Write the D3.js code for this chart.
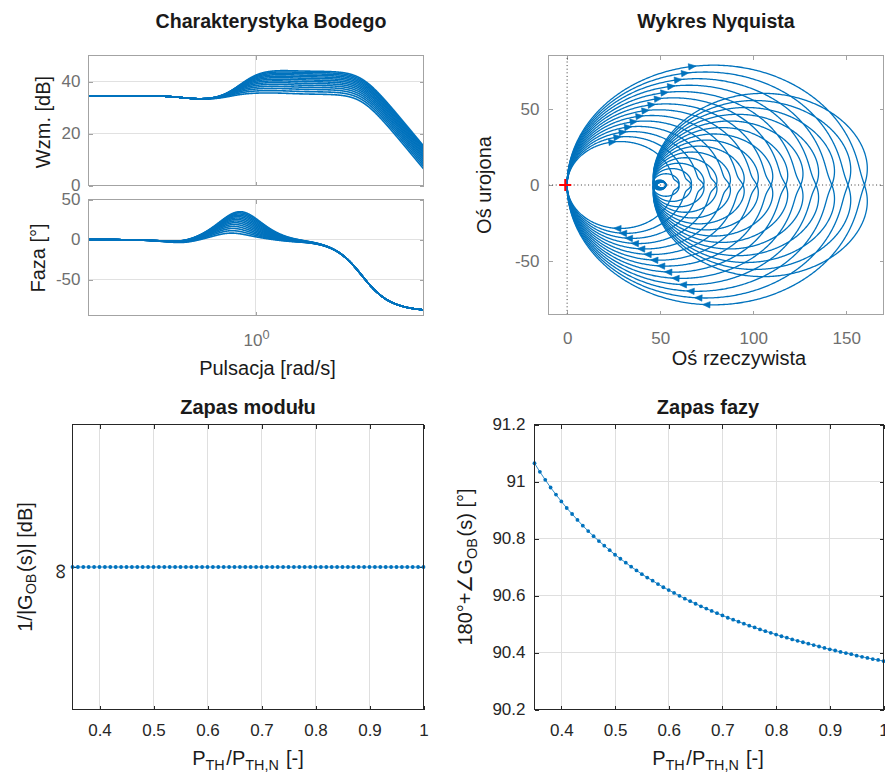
<!DOCTYPE html>
<html><head><meta charset="utf-8">
<script src="https://cdn.jsdelivr.net/npm/d3@7"></script>
<style>
body{margin:0;background:#fff}
svg text{font-family:"Liberation Sans",Arial,Helvetica,sans-serif}
</style>
</head><body>
<svg id="c" width="885" height="774"></svg>
<script>
// ---------------- data ----------------
// Bode / Nyquist family: one curve per P_TH/P_TH,N value
const curvePTH   = [0.35,0.40,0.45,0.50,0.55,0.60,0.65,0.70,0.75,0.80,0.85,0.90,0.95,1.00];
const plateauGain = [57.0,63.4,70.0,76.8,83.9,91.2,98.7,106.4,114.4,122.6,131.0,139.6,148.4,157.4];
const dcGain = 53;                          // low-frequency gain (34.5 dB)
const lagPole = 0.0187, lagZero = 0.0223;   // small common dip before the rise
const leadZero = 0.217;                     // start of the gain rise [rad/s]
const slowLagPole = 5.8, slowLagZero = 6.2; // slight sag of the plateau
const rollOffPole = 292;                    // -45 deg point [rad/s]
const bodeFreqRange = [1.26e-4, 7.94e3];
const magTicks = [0,20,40], phaseTicks = [-50,0,50], freqTicks = [1];
const nyqXTicks = [0,50,100,150], nyqYTicks = [-50,0,50];

// margins vs P_TH/P_TH,N
const pRatio = [0.35,0.36,0.37,0.38,0.39,0.40,0.41,0.42,0.43,0.44,0.45,0.46,0.47,0.48,0.49,0.50,0.51,0.52,0.53,0.54,0.55,0.56,0.57,0.58,0.59,0.60,0.61,0.62,0.63,0.64,0.65,0.66,0.67,0.68,0.69,0.70,0.71,0.72,0.73,0.74,0.75,0.76,0.77,0.78,0.79,0.80,0.81,0.82,0.83,0.84,0.85,0.86,0.87,0.88,0.89,0.90,0.91,0.92,0.93,0.94,0.95,0.96,0.97,0.98,0.99,1.00];
const phaseMargin = [91.064,91.034,91.006,90.979,90.954,90.930,90.907,90.886,90.865,90.845,
  90.826,90.808,90.791,90.775,90.759,90.743,90.729,90.715,90.701,90.688,
  90.675,90.663,90.652,90.640,90.629,90.619,90.609,90.599,90.589,90.580,
  90.571,90.562,90.554,90.546,90.538,90.530,90.522,90.515,90.508,90.501,
  90.494,90.488,90.481,90.475,90.469,90.463,90.457,90.452,90.446,90.441,
  90.436,90.431,90.426,90.421,90.416,90.411,90.407,90.402,90.398,90.394,
  90.389,90.385,90.381,90.377,90.374,90.370];
const gainMargin = [Infinity,Infinity,Infinity,Infinity,Infinity,Infinity,Infinity,Infinity,Infinity,Infinity,
  Infinity,Infinity,Infinity,Infinity,Infinity,Infinity,Infinity,Infinity,Infinity,Infinity,
  Infinity,Infinity,Infinity,Infinity,Infinity,Infinity,Infinity,Infinity,Infinity,Infinity,
  Infinity,Infinity,Infinity,Infinity,Infinity,Infinity,Infinity,Infinity,Infinity,Infinity,
  Infinity,Infinity,Infinity,Infinity,Infinity,Infinity,Infinity,Infinity,Infinity,Infinity,
  Infinity,Infinity,Infinity,Infinity,Infinity,Infinity,Infinity,Infinity,Infinity,Infinity,
  Infinity,Infinity,Infinity,Infinity,Infinity,Infinity];
const marginXTicks = [0.4,0.5,0.6,0.7,0.8,0.9,1];
const phaseMarginTicks = [90.2,90.4,90.6,90.8,91,91.2];

// ---------------- styling ----------------
const FONT = '"Liberation Sans", Arial, Helvetica, sans-serif';
const BLUE = "#0072BD";
const svg = d3.select("#c");

// frequency response of one member of the family
function response(K, w) {
  const lead0 = dcGain * lagPole / lagZero;
  const p = leadZero * (K * slowLagZero / slowLagPole) / lead0;
  const mag = dcGain * Math.hypot(1, w/lagZero) / Math.hypot(1, w/lagPole)
            * Math.hypot(1, w/leadZero) / Math.hypot(1, w/p)
            * Math.hypot(1, w/slowLagZero) / Math.hypot(1, w/slowLagPole)
            / Math.hypot(1, w/rollOffPole);
  const ph = Math.atan(w/lagZero) - Math.atan(w/lagPole)
           + Math.atan(w/leadZero) - Math.atan(w/p)
           + Math.atan(w/slowLagZero) - Math.atan(w/slowLagPole)
           - Math.atan(w/rollOffPole);
  return {mag, ph};
}

function frame(o) {
  const g = svg.append("g");
  const [x0, x1] = o.x.range(), [y0, y1] = o.y.range();
  if (o.xGrid) g.append("g").selectAll("line").data(o.xGrid).join("line")
    .attr("x1", d => o.x(d)).attr("x2", d => o.x(d)).attr("y1", y0).attr("y2", y1)
    .attr("stroke", o.gridColor).attr("shape-rendering", "crispEdges");
  if (o.yGrid) g.append("g").selectAll("line").data(o.yGrid).join("line")
    .attr("y1", d => o.y(d)).attr("y2", d => o.y(d)).attr("x1", x0).attr("x2", x1)
    .attr("stroke", o.gridColor).attr("shape-rendering", "crispEdges");
  const axes = [
    [d3.axisBottom(o.x).tickValues(o.xTicks).tickFormat(o.xFmt).tickPadding(o.xPad), `translate(0,${y0})`],
    [d3.axisTop(o.x).tickValues(o.xTicks).tickFormat(() => ""), `translate(0,${y1})`],
    [d3.axisLeft(o.y).tickValues(o.yTicks).tickFormat(o.yFmt).tickPadding(o.yPad), `translate(${x0},0)`],
    [d3.axisRight(o.y).tickValues(o.yTicks).tickFormat(() => ""), `translate(${x1},0)`]
  ];
  const ag = axes.map(([ax, tr]) => g.append("g").attr("transform", tr)
    .call(ax.tickSizeInner(-4).tickSizeOuter(0))
    .attr("font-family", FONT).attr("font-size", 17));
  ag.forEach(a => {
    a.select(".domain").remove();
    a.selectAll(".tick line").attr("stroke", o.boxColor).attr("shape-rendering", "crispEdges");
    a.selectAll(".tick text").attr("fill", o.textColor);
  });
  return {g, axes: ag, box: () => svg.append("rect").attr("x", x0).attr("y", y1)
    .attr("width", x1 - x0).attr("height", y0 - y1).attr("fill", "none")
    .attr("stroke", o.boxColor).attr("shape-rendering", "crispEdges")};
}

function clip(id, x, y) {
  const [x0, x1] = x.range(), [y0, y1] = y.range();
  svg.append("clipPath").attr("id", id).append("rect")
    .attr("x", x0).attr("y", y1).attr("width", x1 - x0).attr("height", y0 - y1);
  return `url(#${id})`;
}

function text(str, x, y, opt = {}) {
  const t = svg.append("text").attr("x", x).attr("y", y)
    .attr("text-anchor", opt.anchor || "middle").attr("font-size", opt.size || 20)
    .attr("font-weight", opt.bold ? "bold" : null).attr("fill", opt.color || "#1a1a1a");
  if (str) t.text(str);
  if (opt.rotate) t.attr("transform", `rotate(${opt.rotate},${x},${y})`);
  return t;
}
function subText(t, parts) {
  parts.forEach(([s, sub]) => {
    if (sub) { t.append("tspan").attr("font-size", "0.72em").attr("dy", "0.32em").text(s);
               t.append("tspan").attr("dy", "-0.23em").text("\u200A"); }
    else t.append("tspan").text(s);
  });
  return t;
}

const TOPGRID = "#e1e1e1", TOPBOX = "#a3a3a3", TOPTEXT = "#6f6f6f";
const BOTGRID = "#dfdfdf", BOTBOX = "#262626", BOTTEXT = "#262626";

// ---------------- Bode ----------------
const bx = d3.scaleLog().domain(bodeFreqRange).range([88.5, 423.5]);
const bmag = d3.scaleLinear().domain([0, 50]).range([185.5, 55.5]);
const bph = d3.scaleLinear().domain([-95, 50]).range([315.5, 199.5]);
const omegaBode = d3.range(0, 1201).map(i => Math.pow(10, Math.log10(bodeFreqRange[0]) +
  (Math.log10(bodeFreqRange[1]) - Math.log10(bodeFreqRange[0])) * i / 1200));

const fm = frame({x: bx, y: bmag, xTicks: freqTicks, yTicks: magTicks, xGrid: freqTicks, yGrid: [20, 40],
  xFmt: () => "", yFmt: d => String(d), xPad: 18, yPad: 8, gridColor: TOPGRID, boxColor: TOPBOX, textColor: TOPTEXT});
const fp = frame({x: bx, y: bph, xTicks: freqTicks, yTicks: phaseTicks, xGrid: freqTicks, yGrid: [-50, 0],
  xFmt: () => "", yFmt: d => String(d), xPad: 18, yPad: 8, gridColor: TOPGRID, boxColor: TOPBOX, textColor: TOPTEXT});
// 10^0 label
fp.axes[0].selectAll(".tick text").each(function () {
  const t = d3.select(this).text(null);
  t.append("tspan").text("10");
  t.append("tspan").attr("dy", "-0.55em").attr("font-size", "0.75em").text("0");
});

const clipMag = clip("cm", bx, bmag), clipPh = clip("cp", bx, bph);
const magLine = d3.line().x(d => bx(d.w)).y(d => bmag(20 * Math.log10(d.mag)));
const phLine = d3.line().x(d => bx(d.w)).y(d => bph(d.ph * 180 / Math.PI));
const bodeData = plateauGain.map(K => omegaBode.map(w => ({w, ...response(K, w)})));
svg.append("g").attr("clip-path", clipMag).selectAll("path").data(bodeData).join("path")
  .attr("d", magLine).attr("fill", "none").attr("stroke", BLUE).attr("stroke-width", 1.6);
svg.append("g").attr("clip-path", clipPh).selectAll("path").data(bodeData).join("path")
  .attr("d", phLine).attr("fill", "none").attr("stroke", BLUE).attr("stroke-width", 1.6);
fm.box(); fp.box();

text("Charakterystyka Bodego", 271, 28, {bold: true, size: 19.6});
text("Wzm. [dB]", 49.5, 122, {rotate: -90});
text("Faza [°]", 45, 258, {rotate: -90});
text("Pulsacja [rad/s]", 267.5, 375);

// ---------------- Nyquist ----------------
const nx = d3.scaleLinear().domain([-10, 170]).range([548.5, 883.5]);
const ny = d3.scaleLinear().domain([-85, 85]).range([314.5, 55.5]);
const fn = frame({x: nx, y: ny, xTicks: nyqXTicks, yTicks: nyqYTicks, xGrid: null, yGrid: null,
  xFmt: d => String(d), yFmt: d => String(d), xPad: 17, yPad: 9, gridColor: TOPGRID, boxColor: TOPBOX, textColor: TOPTEXT});
// dotted zero lines
svg.append("line").attr("x1", nx(0)).attr("x2", nx(0)).attr("y1", ny(-85)).attr("y2", ny(85))
  .attr("stroke", "#3a3a3a").attr("stroke-dasharray", "1,2.6").attr("stroke-width", 1);
svg.append("line").attr("x1", nx(-10)).attr("x2", nx(170)).attr("y1", ny(0)).attr("y2", ny(0))
  .attr("stroke", "#3a3a3a").attr("stroke-dasharray", "1,2.6").attr("stroke-width", 1);

const omegaNyq = d3.range(0, 2001).map(i => Math.pow(10, -4 + 10 * i / 2000));
const clipNy = clip("cn", nx, ny);
const nyLine = d3.line().x(d => nx(d[0])).y(d => ny(d[1]));
const nyPoint = (K, w) => { const r = response(K, w); return [r.mag * Math.cos(r.ph), r.mag * Math.sin(r.ph)]; };
const nyData = plateauGain.map(K => {
  const pos = omegaNyq.map(w => nyPoint(K, w));
  const neg = pos.map(p => [p[0], -p[1]]).reverse();
  return neg.concat(pos);
});
const gN = svg.append("g").attr("clip-path", clipNy);
gN.selectAll("path").data(nyData).join("path").attr("d", nyLine)
  .attr("fill", "none").attr("stroke", BLUE).attr("stroke-width", 1.3);
// arrows (direction of increasing frequency)
function arrow(p, q) {
  const px = nx(p[0]), py = ny(p[1]);
  const dx = nx(q[0]) - px, dy = ny(q[1]) - py, L = Math.hypot(dx, dy);
  const ux = dx / L, uy = dy / L;
  const tip = [px + ux * 4, py + uy * 4], base = [px - ux * 3.5, py - uy * 3.5];
  gN.append("path").attr("d", `M${tip[0]},${tip[1]}L${base[0] - uy * 3.2},${base[1] + ux * 3.2}L${base[0] + uy * 3.2},${base[1] - ux * 3.2}Z`)
    .attr("fill", BLUE).attr("stroke", BLUE).attr("stroke-width", 0.6);
}
plateauGain.forEach(K => {
  const wP = rollOffPole * 1.05, wN = rollOffPole * 1.16;
  arrow(nyPoint(K, wP), nyPoint(K, wP * 1.02));                       // positive frequencies
  const a = nyPoint(K, wN), b = nyPoint(K, wN / 1.02);
  arrow([a[0], -a[1]], [b[0], -b[1]]);                                // negative frequencies
});
// critical point
svg.append("path").attr("d", `M${nx(-1) - 6},${ny(0)}H${nx(-1) + 6}M${nx(-1)},${ny(0) - 6}V${ny(0) + 6}`)
  .attr("stroke", "#ff0000").attr("stroke-width", 2);
fn.box();
text("Wykres Nyquista", 716, 28, {bold: true, size: 19.6});
text("Oś urojona", 491, 185, {rotate: -90});
text("Oś rzeczywista", 739, 365);

// ---------------- Zapas modułu ----------------
const mx1 = d3.scaleLinear().domain([0.35, 1]).range([72.5, 423.5]);
const gmY = d3.scalePoint().domain([Infinity]).range([709.5, 424.5]).padding(0.5);
const f3 = frame({x: mx1, y: gmY, xTicks: marginXTicks, yTicks: [Infinity], xGrid: marginXTicks, yGrid: null,
  xFmt: d => String(d), yFmt: () => "\u221E", xPad: 14, yPad: 9, gridColor: BOTGRID, boxColor: BOTBOX, textColor: BOTTEXT});
f3.axes[2].selectAll(".tick text").each(function () {
  const t = d3.select(this);
  const xx = +t.attr("x");
  t.attr("text-anchor", "middle").attr("dy", "0.3em").attr("x", 0).attr("y", 0).attr("font-size", 22)
   .attr("transform", `translate(${xx - 3},4) rotate(-90)`);
});
const gmPts = pRatio.map((p, i) => [p, gainMargin[i]]);
svg.append("path").datum(gmPts).attr("d", d3.line().x(d => mx1(d[0])).y(d => gmY(d[1])))
  .attr("fill", "none").attr("stroke", BLUE).attr("stroke-width", 0.8);
svg.append("g").selectAll("circle").data(gmPts).join("circle")
  .attr("cx", d => mx1(d[0])).attr("cy", d => gmY(d[1])).attr("r", 1.9).attr("fill", BLUE);
f3.box();
text("Zapas modułu", 248, 414, {bold: true});
subText(text("", 248, 765), [["P"], ["TH", 1], ["/P"], ["TH,N", 1], [" [-]"]]);
subText(text("", 31.5, 567, {rotate: -90}), [["1/|G"], ["OB", 1], ["(s)| [dB]"]]);

// ---------------- Zapas fazy ----------------
const mx2 = d3.scaleLinear().domain([0.35, 1]).range([534.5, 883.5]);
const pmY = d3.scaleLinear().domain([90.2, 91.2]).range([709.5, 424.5]);
const f4 = frame({x: mx2, y: pmY, xTicks: marginXTicks, yTicks: phaseMarginTicks, xGrid: marginXTicks,
  yGrid: phaseMarginTicks, xFmt: d => String(d), yFmt: d => String(+d.toFixed(1)), xPad: 14, yPad: 9,
  gridColor: BOTGRID, boxColor: BOTBOX, textColor: BOTTEXT});
const pmPts = pRatio.map((p, i) => [p, phaseMargin[i]]);
svg.append("path").datum(pmPts).attr("d", d3.line().x(d => mx2(d[0])).y(d => pmY(d[1])))
  .attr("fill", "none").attr("stroke", BLUE).attr("stroke-width", 0.8);
svg.append("g").selectAll("circle").data(pmPts).join("circle")
  .attr("cx", d => mx2(d[0])).attr("cy", d => pmY(d[1])).attr("r", 1.9).attr("fill", BLUE);
f4.box();
text("Zapas fazy", 708, 414, {bold: true});
subText(text("", 708, 765), [["P"], ["TH", 1], ["/P"], ["TH,N", 1], [" [-]"]]);
subText(text("", 472, 567, {rotate: -90}), [["180°+∠G"], ["OB", 1], ["(s) [°]"]]);
</script>
</body></html>
